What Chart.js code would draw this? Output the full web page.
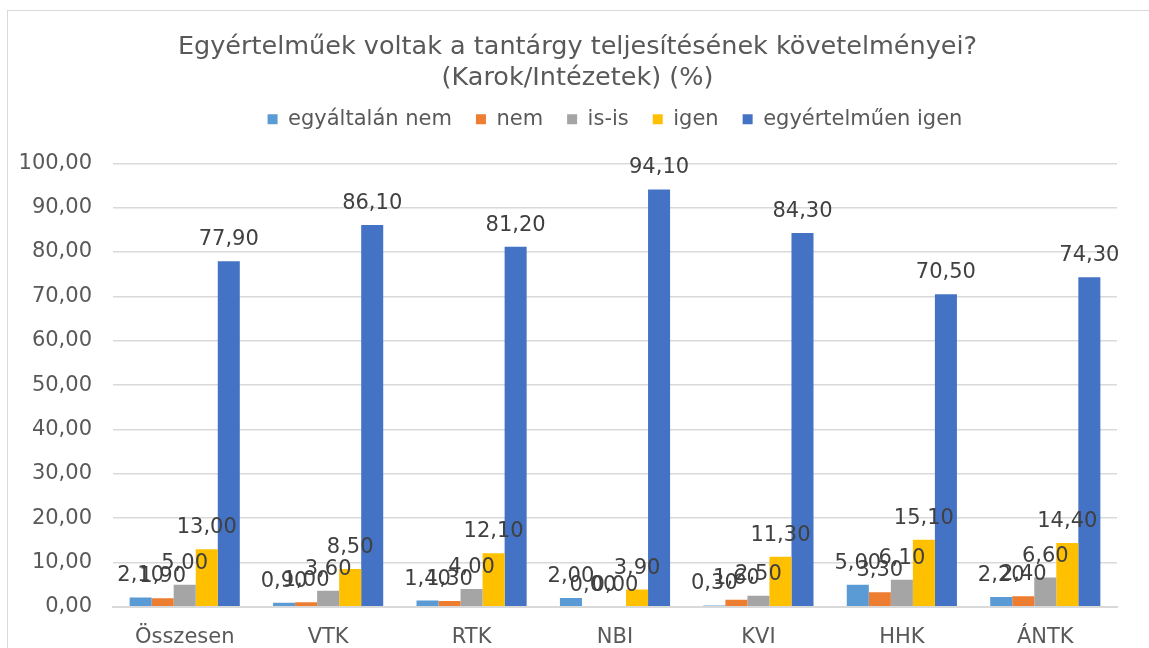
<!DOCTYPE html>
<html><head><meta charset="utf-8">
<script src="https://cdn.jsdelivr.net/npm/chart.js@4"></script>
<style>
html,body{margin:0;padding:0;background:#fff;overflow:hidden;}
#wrap{position:relative;width:1149px;height:648px;overflow:hidden;}
#frame{position:absolute;left:7px;top:10px;width:1160px;height:660px;border:1px solid #d9d9d9;}
canvas{position:absolute;left:0;top:0;}
</style></head>
<body>
<div id="wrap"><div id="frame"></div><canvas id="c" width="1149" height="648"></canvas></div>
<script>
const categories = ['Összesen','VTK','RTK','NBI','KVI','HHK','ÁNTK'];
const egyaltalanNem = [2.10, 0.90, 1.40, 2.00, 0.30, 5.00, 2.20];
const nem = [1.90, 1.00, 1.30, 0.00, 1.60, 3.30, 2.40];
const isIs = [5.00, 3.60, 4.00, 0.00, 2.50, 6.10, 6.60];
const igen = [13.00, 8.50, 12.10, 3.90, 11.30, 15.10, 14.40];
const egyertelmuenIgen = [77.90, 86.10, 81.20, 94.10, 84.30, 70.50, 74.30];
const seriesNames = ['egyáltalán nem','nem','is-is','igen','egyértelműen igen'];
const seriesColors = ['#5B9BD5','#ED7D31','#A5A5A5','#FFC000','#4472C4'];
const yTicks = [0,10,20,30,40,50,60,70,80,90,100];

const FONT = '"DejaVu Sans", Verdana, sans-serif';
const fmt = v => v.toFixed(2).replace('.', ',');

const labelPlugin = {
  id: 'barLabels',
  afterDatasetsDraw(chart) {
    const ctx = chart.ctx;
    ctx.save();
    ctx.font = '21px ' + FONT;
    ctx.fillStyle = '#404040';
    ctx.textAlign = 'center';
    ctx.textBaseline = 'alphabetic';
    chart.data.datasets.forEach((ds, i) => {
      chart.getDatasetMeta(i).data.forEach((bar, j) => {
        ctx.fillText(fmt(ds.data[j]), bar.x, bar.y - 16);
      });
    });
    ctx.restore();
  }
};

// empty layout boxes: one between legend and plot area, one at the right of the plot
function spacer(position, size) {
  return {
    position, weight: 500, fullSize: false,
    options: {},
    width: 0, height: 0, left: 0, top: 0, right: 0, bottom: 0,
    isHorizontal() { return position === 'top' || position === 'bottom'; },
    update(maxWidth, maxHeight) {
      if (this.isHorizontal()) { this.width = maxWidth; this.height = size; }
      else { this.width = size; this.height = maxHeight; }
      return { width: this.width, height: this.height };
    },
    draw() {}
  };
}
const spacerPlugin = {
  id: 'spacers',
  beforeInit(chart) {
    Chart.layouts.addBox(chart, spacer('top', 23.5));
    Chart.layouts.addBox(chart, spacer('right', 20));
  }
};

const allSeries = [egyaltalanNem, nem, isIs, igen, egyertelmuenIgen];
new Chart(document.getElementById('c'), {
  type: 'bar',
  data: {
    labels: categories,
    datasets: allSeries.map((d, i) => ({
      label: seriesNames[i],
      data: d,
      backgroundColor: seriesColors[i],
      borderWidth: 0,
      categoryPercentage: 0.768,
      barPercentage: 1.0
    }))
  },
  options: {
    responsive: false,
    animation: false,
    layout: { padding: { left: 18, right: 12, top: 12, bottom: -20 } },
    plugins: {
      title: {
        display: true,
        text: ['Egyértelműek voltak a tantárgy teljesítésének követelményei?', '(Karok/Intézetek) (%)'],
        color: '#595959',
        font: { family: FONT, size: 25.5, weight: 'normal', lineHeight: 1.2 },
        padding: { top: 20, bottom: -8.4 }
      },
      legend: {
        position: 'top',
        fullSize: false,
        labels: {
          color: '#595959',
          font: { family: FONT, size: 21 },
          boxWidth: 10, boxHeight: 10,
          padding: 24
        }
      },
      tooltip: { enabled: false }
    },
    scales: {
      x: {
        grid: { display: false, drawTicks: false },
        border: { color: '#d9d9d9', width: 2 },
        ticks: { color: '#595959', font: { family: FONT, size: 21 }, padding: 18 }
      },
      y: {
        min: 0, max: 100,
        afterBuildTicks: axis => { axis.ticks = yTicks.map(v => ({ value: v })); },
        afterFit: axis => { axis.width = 95; },
        grid: { color: '#d9d9d9', lineWidth: 1.5, drawTicks: false },
        border: { display: false },
        ticks: { color: '#595959', font: { family: FONT, size: 21 }, padding: 21, callback: v => fmt(v) }
      }
    }
  },
  plugins: [spacerPlugin, labelPlugin]
});
</script>
</body></html>
